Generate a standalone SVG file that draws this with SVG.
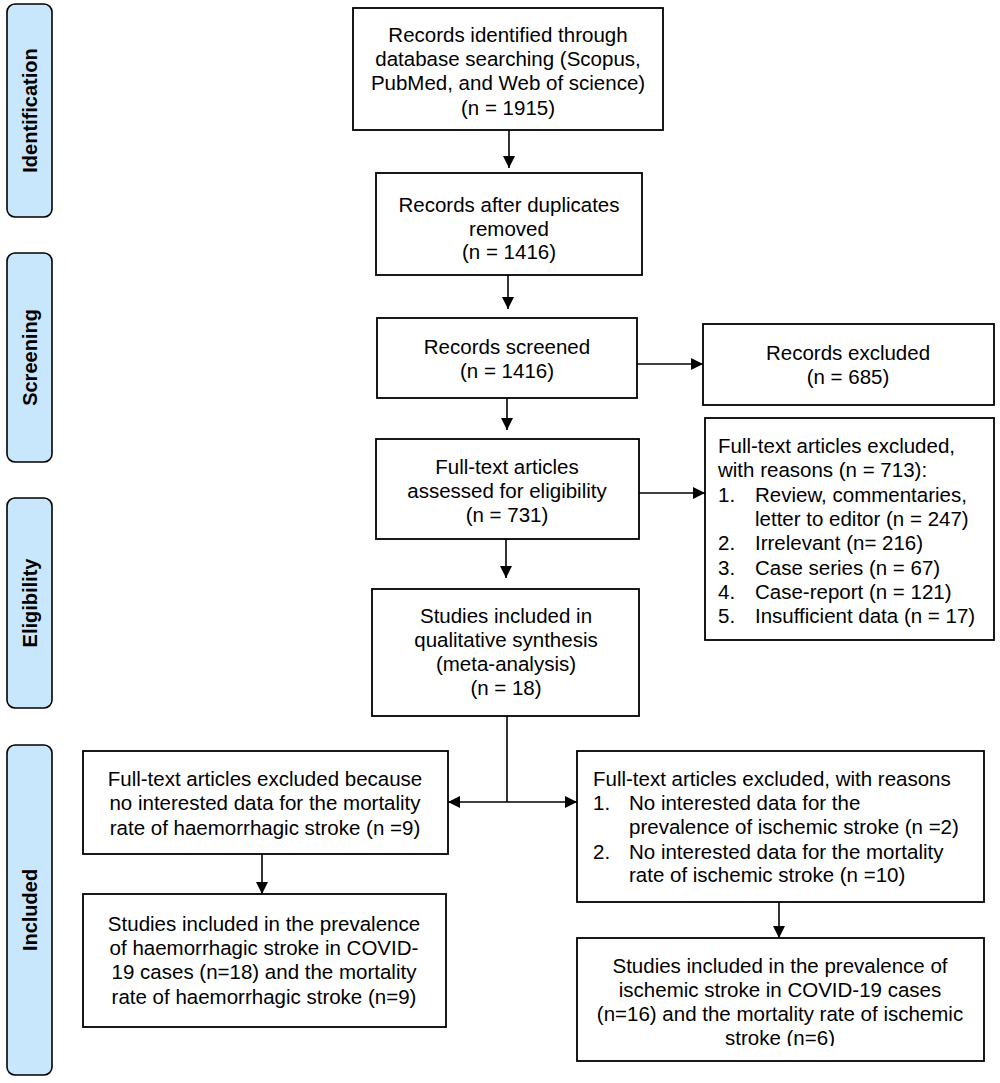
<svg xmlns="http://www.w3.org/2000/svg" width="1000" height="1083" viewBox="0 0 1000 1083">
<style>
.box{fill:#fff;stroke:#000;stroke-width:1.8}
.pill{fill:#c9e7fc;stroke:#000;stroke-width:1.6}
.t{font-family:"Liberation Sans",Arial,sans-serif;font-size:20.5px;fill:#000}
.c{text-anchor:middle}
.lab{font-family:"Liberation Sans",Arial,sans-serif;font-size:20px;font-weight:bold;text-anchor:middle;fill:#000}
.ln{fill:none;stroke:#000;stroke-width:1.6}
</style>
<defs>
<marker id="ah" viewBox="0 0 12 12" refX="12" refY="6" markerWidth="12" markerHeight="12" markerUnits="userSpaceOnUse" orient="auto-start-reverse">
<path d="M0,0 L12,6 L0,12 Z" fill="#000"/>
</marker>
<clipPath id="clipI"><rect x="577" y="938" width="407" height="108"/></clipPath>
</defs>
<rect width="1000" height="1083" fill="#fff"/>

<g id="phase-identification">
<rect class="pill" x="7" y="4" width="45" height="213" rx="8"/>
<text class="lab" transform="translate(37,110.5) rotate(-90)">Identification</text>
</g>
<g id="phase-screening">
<rect class="pill" x="7" y="253" width="45" height="209" rx="8"/>
<text class="lab" transform="translate(37,357.5) rotate(-90)">Screening</text>
</g>
<g id="phase-eligibility">
<rect class="pill" x="7" y="498" width="45" height="210" rx="8"/>
<text class="lab" transform="translate(37,603) rotate(-90)">Eligibility</text>
</g>
<g id="phase-included">
<rect class="pill" x="7" y="745" width="45" height="330" rx="8"/>
<text class="lab" transform="translate(37,910) rotate(-90)">Included</text>
</g>

<g id="connectors">
<line class="ln" x1="509" y1="130" x2="509" y2="168" marker-end="url(#ah)"/>
<line class="ln" x1="508" y1="275" x2="508" y2="309" marker-end="url(#ah)"/>
<line class="ln" x1="637" y1="364" x2="703" y2="364" marker-end="url(#ah)"/>
<line class="ln" x1="507" y1="398" x2="507" y2="430" marker-end="url(#ah)"/>
<line class="ln" x1="639" y1="493" x2="705" y2="493" marker-end="url(#ah)"/>
<line class="ln" x1="506" y1="539" x2="506" y2="578" marker-end="url(#ah)"/>
<line class="ln" x1="507" y1="716" x2="507" y2="802"/>
<line class="ln" x1="507" y1="802" x2="448" y2="802" marker-end="url(#ah)"/>
<line class="ln" x1="507" y1="802" x2="577" y2="802" marker-end="url(#ah)"/>
<line class="ln" x1="262" y1="854" x2="262" y2="894" marker-end="url(#ah)"/>
<line class="ln" x1="779" y1="902" x2="779" y2="938" marker-end="url(#ah)"/>
</g>

<g id="identified">
<rect class="box" x="353" y="8" width="310" height="122"/>
<text class="t c" x="508" y="42">Records identified through</text>
<text class="t c" x="508" y="66">database searching (Scopus,</text>
<text class="t c" x="508" y="90">PubMed, and Web of science)</text>
<text class="t c" x="508" y="115">(n = 1915)</text>
</g>
<g id="duplicates-removed">
<rect class="box" x="376" y="173" width="266" height="102"/>
<text class="t c" x="509" y="212">Records after duplicates</text>
<text class="t c" x="509" y="236">removed</text>
<text class="t c" x="509" y="259">(n = 1416)</text>
</g>
<g id="screened">
<rect class="box" x="377" y="318" width="260" height="80"/>
<text class="t c" x="507" y="354">Records screened</text>
<text class="t c" x="507" y="378">(n = 1416)</text>
</g>
<g id="records-excluded">
<rect class="box" x="703" y="324" width="291" height="81"/>
<text class="t c" x="848" y="360">Records excluded</text>
<text class="t c" x="848" y="384">(n = 685)</text>
</g>
<g id="fulltext-assessed">
<rect class="box" x="376" y="439" width="263" height="100"/>
<text class="t c" x="507" y="474">Full-text articles</text>
<text class="t c" x="507" y="498">assessed for eligibility</text>
<text class="t c" x="507" y="522">(n = 731)</text>
</g>
<g id="fulltext-excluded">
<rect class="box" x="705" y="418" width="289" height="222"/>
<text class="t" x="718" y="453">Full-text articles excluded,</text>
<text class="t" x="718" y="477">with reasons (n = 713):</text>
<text class="t" x="718" y="502">1.</text><text class="t" x="755" y="502">Review, commentaries,</text>
<text class="t" x="755" y="526">letter to editor (n = 247)</text>
<text class="t" x="718" y="550">2.</text><text class="t" x="755" y="550">Irrelevant (n= 216)</text>
<text class="t" x="718" y="575">3.</text><text class="t" x="755" y="575">Case series (n = 67)</text>
<text class="t" x="718" y="599">4.</text><text class="t" x="755" y="599">Case-report (n = 121)</text>
<text class="t" x="718" y="623">5.</text><text class="t" x="755" y="623">Insufficient data (n = 17)</text>
</g>
<g id="qualitative-synthesis">
<rect class="box" x="372" y="589" width="267" height="127"/>
<text class="t c" x="506" y="623">Studies included in</text>
<text class="t c" x="506" y="647">qualitative synthesis</text>
<text class="t c" x="506" y="671">(meta-analysis)</text>
<text class="t c" x="506" y="695">(n = 18)</text>
</g>
<g id="excluded-haemorrhagic">
<rect class="box" x="83" y="751" width="365" height="103"/>
<text class="t c" x="265" y="786">Full-text articles excluded because</text>
<text class="t c" x="265" y="810">no interested data for the mortality</text>
<text class="t c" x="265" y="835">rate of haemorrhagic stroke (n =9)</text>
</g>
<g id="included-haemorrhagic">
<rect class="box" x="83" y="894" width="363" height="133"/>
<text class="t c" x="264" y="931">Studies included in the prevalence</text>
<text class="t c" x="264" y="955">of haemorrhagic stroke in COVID-</text>
<text class="t c" x="264" y="979">19 cases (n=18) and the mortality</text>
<text class="t c" x="264" y="1004">rate of haemorrhagic stroke (n=9)</text>
</g>
<g id="excluded-ischemic">
<rect class="box" x="577" y="751" width="407" height="151"/>
<text class="t" x="593" y="786">Full-text articles excluded, with reasons</text>
<text class="t" x="593" y="810">1.</text><text class="t" x="629" y="810">No interested data for the</text>
<text class="t" x="629" y="834">prevalence of ischemic stroke (n =2)</text>
<text class="t" x="593" y="859">2.</text><text class="t" x="629" y="859">No interested data for the mortality</text>
<text class="t" x="629" y="882">rate of ischemic stroke (n =10)</text>
</g>
<g id="included-ischemic">
<rect class="box" x="577" y="938" width="407" height="123"/>
<g clip-path="url(#clipI)">
<text class="t c" x="780" y="973">Studies included in the prevalence of</text>
<text class="t c" x="780" y="997">ischemic stroke in COVID-19 cases</text>
<text class="t c" x="780" y="1021">(n=16) and the mortality rate of ischemic</text>
<text class="t c" x="780" y="1045">stroke (n=6)</text>
</g>
</g>
</svg>
